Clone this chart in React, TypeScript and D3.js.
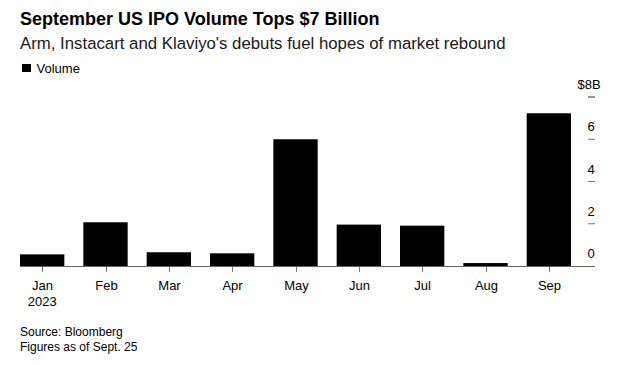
import React, { useEffect, useRef } from "react";
import * as d3 from "d3";

const months = ["Jan", "Feb", "Mar", "Apr", "May", "Jun", "Jul", "Aug", "Sep"];
const volume = [0.55, 2.07, 0.65, 0.6, 6.0, 1.96, 1.91, 0.14, 7.23];
const yTicks = [0, 2, 4, 6, 8];

const width = 637;
const height = 365;
const font = "'Liberation Sans', Arial, sans-serif";

const App = () => {
  const ref = useRef<SVGSVGElement>(null);

  useEffect(() => {
    const svg = d3.select(ref.current);
    svg.selectAll("*").remove();

    const baseY = 266;
    const x = d3.scaleBand().domain(months).range([20, 571]).paddingInner(0.3).paddingOuter(0);
    const y = d3.scaleLinear().domain([0, 8]).range([baseY, 97]);

    // titles
    svg.append("text").attr("x", 20).attr("y", 25).attr("font-family", font)
      .attr("font-weight", "bold").attr("font-size", 18).attr("fill", "#000")
      .text("September US IPO Volume Tops $7 Billion");
    svg.append("text").attr("x", 20).attr("y", 49).attr("font-family", font)
      .attr("font-size", 16.8).attr("fill", "#1a1a1a")
      .text("Arm, Instacart and Klaviyo's debuts fuel hopes of market rebound");

    // legend
    svg.append("rect").attr("x", 22).attr("y", 64).attr("width", 9).attr("height", 8).attr("fill", "#000");
    svg.append("text").attr("x", 36.5).attr("y", 73).attr("font-family", font)
      .attr("font-size", 13).attr("fill", "#000").text("Volume");

    // y ticks (dashes + labels, right side)
    const tx = 591;
    yTicks.forEach((t) => {
      if (t > 0) {
        svg.append("line").attr("x1", tx - 3).attr("x2", tx + 4)
          .attr("y1", y(t)).attr("y2", y(t))
          .attr("stroke", t === 8 ? "#222" : "#777").attr("stroke-width", 1);
      }
      svg.append("text").attr("x", t === 8 ? tx - 2 : tx).attr("y", y(t) - 8)
        .attr("text-anchor", "middle").attr("font-family", font).attr("font-size", 13)
        .attr("fill", "#000").text(t === 8 ? "$8B" : String(t));
    });

    // bars
    svg.append("g").selectAll("rect").data(volume).enter().append("rect")
      .attr("x", (d, i) => x(months[i]) as number)
      .attr("width", x.bandwidth())
      .attr("y", (d) => y(d))
      .attr("height", (d) => baseY - y(d))
      .attr("fill", "#000");

    // baseline
    svg.append("line").attr("x1", 20).attr("x2", 595).attr("y1", baseY + 0.5).attr("y2", baseY + 0.5)
      .attr("stroke", "#666").attr("stroke-width", 1);

    // x ticks
    const ticks = svg.append("g");
    months.forEach((m) => {
      const cx = Math.round((x(m) as number) + x.bandwidth() / 2) + 0.5;
      ticks.append("line").attr("x1", cx).attr("x2", cx).attr("y1", baseY + 1).attr("y2", baseY + 6)
        .attr("stroke", "#777");
      ticks.append("text").attr("x", cx).attr("y", 290).attr("text-anchor", "middle")
        .attr("font-family", font).attr("font-size", 13).attr("fill", "#000").text(m);
    });
    ticks.append("text").attr("x", (x("Jan") as number) + x.bandwidth() / 2).attr("y", 306)
      .attr("text-anchor", "middle").attr("font-family", font).attr("font-size", 13)
      .attr("fill", "#000").text("2023");

    // footer
    svg.append("text").attr("x", 20).attr("y", 336).attr("font-family", font)
      .attr("font-size", 12).attr("fill", "#000").text("Source: Bloomberg");
    svg.append("text").attr("x", 20).attr("y", 351).attr("font-family", font)
      .attr("font-size", 12).attr("fill", "#000").text("Figures as of Sept. 25");
  }, []);

  return (
    <svg
      ref={ref}
      width={width}
      height={height}
      style={{ position: "absolute", left: 0, top: 0, background: "#fff" }}
    />
  );
};

export default App;
